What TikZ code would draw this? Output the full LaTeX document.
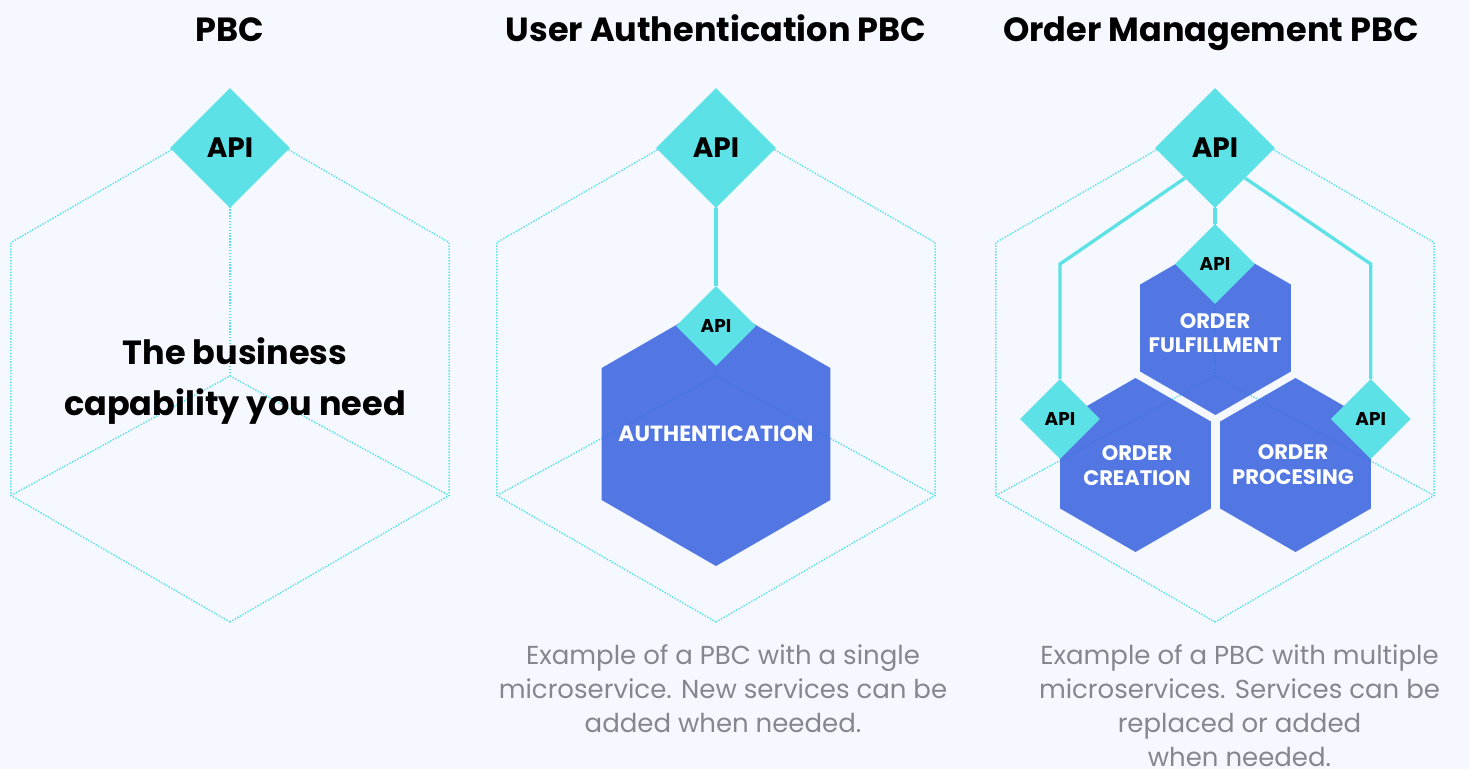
\documentclass[tikz,border=0pt]{standalone}
\usepackage{fontspec}
\setmainfont{Poppins}
\usetikzlibrary{shapes.geometric}
\definecolor{bgc}{HTML}{F5F8FF}
\definecolor{cyanc}{HTML}{5CE1E6}
\definecolor{bluec}{HTML}{416AE0}
\definecolor{grayc}{HTML}{86868F}
\tikzset{
  dotline/.style={draw=cyanc, line width=1.5pt, dash pattern=on 1.4pt off 1.5pt},
  conn/.style={draw=cyanc, line width=3.3pt},
  bighex/.style={fill=bluec, fill opacity=0.9, draw=none},
  apibig/.style={shape=diamond, fill=cyanc, draw=none, inner sep=0pt, minimum width=120pt, minimum height=120pt, font=\fontsize{28}{30}\selectfont\bfseries, text=black},
  apismall/.style={shape=diamond, fill=cyanc, draw=none, inner sep=0pt, minimum width=80pt, minimum height=80pt, font=\fontsize{18.5}{20}\selectfont\bfseries, text=black},
  title/.style={font=\fontsize{33.5}{36}\selectfont\bfseries, text=black, anchor=base},
  hexlabel/.style={font=\fontsize{21}{24.5}\selectfont\bfseries, text=white, align=center},
  caption/.style={font=\fontsize{26}{34}\selectfont, text=grayc, align=center}
}
\newcommand{\pbchex}[3]{% cx cy R
  \draw[dotline, shift={(#1,#2)}] (90:#3) -- (150:#3) -- (210:#3) -- (270:#3) -- (330:#3) -- (30:#3) -- cycle;
  \draw[dotline, shift={(#1,#2)}] (150:#3) -- (0,7) -- (30:#3);
  \draw[dotline, shift={(#1,#2)}] (0,7) -- (270:#3);
}
\newcommand{\svchex}[3]{%
  \fill[bighex, shift={(#1,#2)}] (90:#3) -- (150:#3) -- (210:#3) -- (270:#3) -- (330:#3) -- (30:#3) -- cycle;
}
\begin{document}
\begin{tikzpicture}[x=1pt, y=-1pt]
\useasboundingbox[fill=bgc] (0,0) rectangle (1469,769);

% outer dotted hexagons
\pbchex{230}{369}{253}
\pbchex{716}{369}{253}
\pbchex{1215}{369}{253}

% service hexagons
\svchex{716}{434}{132}
\svchex{1215.5}{328}{87}
\svchex{1135.5}{465}{87}
\svchex{1295.5}{465}{87}

% API diamonds
\node[apibig] (api1) at (230,148) {API};
\node[apibig] (api2) at (716,148) {API};
\node[apibig] (api3) at (1215,148) {API};
\node[apismall] (api2s) at (716,326) {API};
\node[apismall] (apif) at (1215,264) {API};
\node[apismall] (apic) at (1060,419) {API};
\node[apismall] (apip) at (1370.7,419) {API};

% connectors
\coordinate (bl) at (1060,264);
\coordinate (br) at (1370.7,264);
\draw[conn] (api2.south) -- (api2s.north);
\draw[conn] (api3.south) -- (apif.north);
\draw[conn, line join=miter] (api3.south west) -- (bl) -- (apic.north);
\draw[conn, line join=miter] (api3.south east) -- (br) -- (apip.north);

% titles
\node[title] (t1) at (230,41) {PBC};
\node[title] (t2) at (716,41) {User Authentication PBC};
\node[title] (t3) at (1211,41) {Order Management PBC};

% texts
\node[font=\fontsize{33.5}{51}\selectfont\bfseries, align=center, text=black] (cap) at (235,381) {The business\\capability you need};
\node[hexlabel, font=\fontsize{22}{24}\selectfont\bfseries] (auth) at (716,434) {AUTHENTICATION};
\node[hexlabel] (ful) at (1215,333) {ORDER\\FULFILLMENT};
\node[hexlabel] (cre) at (1137,465.5) {ORDER\\CREATION};
\node[hexlabel] (pro) at (1293,464.5) {ORDER\\PROCESING};

% captions
\node[caption] (c2) at (723,689) {Example of a PBC with a single\\microservice. New services can be\\added when needed.};
\node[caption] (c3) at (1239.5,706) {Example of a PBC with multiple\\microservices. Services can be\\replaced or added\\when needed.};
\end{tikzpicture}
\end{document}
